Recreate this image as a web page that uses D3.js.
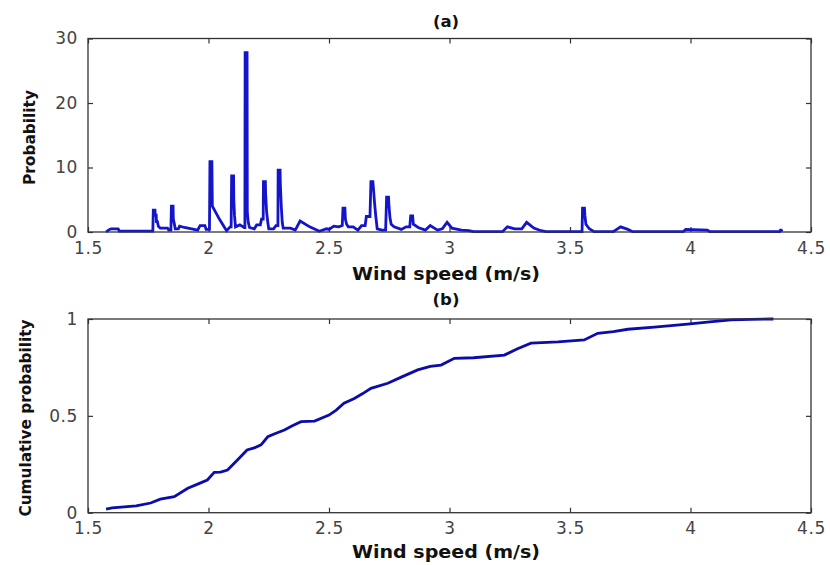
<!DOCTYPE html>
<html>
<head>
<meta charset="utf-8">
<script src="https://cdn.jsdelivr.net/npm/d3@7"></script>
<style>
  html,body{margin:0;padding:0;background:#fff;}
  svg{display:block;}
</style>
</head>
<body>
<svg id="chart" width="830" height="565"></svg>
<script>
/* ── data ── */
var xTicks=[1.5,2,2.5,3,3.5,4,4.5];
var xTickLabels=['1.5','2','2.5','3','3.5','4','4.5'];
var probTicks=[0,10,20,30];
var cdfTicks=[0,0.5,1];
var cdfTickLabels=['0','0.5','1'];

// (a) probability line, in drawing order
var probX=[1.575,1.585,1.595,1.625,1.63,1.769,1.771,1.778,1.779,1.783,1.784,1.788,1.792,1.80,1.83,1.835,1.844,
  1.846,1.853,1.854,1.858,1.862,1.875,1.88,1.90,1.93,1.955,1.965,1.985,1.99,2.004,
  2.006,2.014,2.016,2.045,2.075,2.09,2.094,2.096,2.104,2.105,2.108,2.112,2.13,2.148,2.151,
  2.152,2.160,2.161,2.165,2.17,2.19,2.20,2.215,2.22,2.227,2.228,2.236,2.237,2.241,2.246,2.25,2.27,2.28,2.288,
  2.289,2.297,2.298,2.302,2.306,2.31,2.34,2.36,2.38,2.42,2.46,2.49,2.50,2.52,2.54,2.555,
  2.558,2.566,2.568,2.573,2.58,2.60,2.62,2.635,2.65,2.655,2.67,2.674,2.682,2.685,2.689,2.694,2.70,2.72,2.735,
  2.739,2.747,2.749,2.753,2.758,2.77,2.80,2.82,2.835,2.839,2.847,2.85,2.87,2.90,2.92,2.95,2.97,2.99,3.01,3.05,3.08,3.10,
  3.22,3.24,3.27,3.30,3.32,3.35,3.38,3.40,3.55,3.552,3.560,3.562,3.566,3.58,3.60,3.68,3.71,3.74,3.76,
  3.97,3.98,4.07,4.08,4.37,4.375,4.38];
var probY=[0,0.3,0.5,0.5,0.15,0.15,3.4,3.4,2.6,2.6,1.6,1.6,0.9,0.6,0.6,0.3,0.3,
  4.0,4.0,2.0,1.3,0.5,0.5,0.9,0.7,0.5,0.3,1.0,1.0,0.4,0.4,
  10.9,10.9,4.0,2.0,0.2,0.8,0.8,8.7,8.7,5.0,2.5,0.8,1.1,0.7,0.7,
  27.8,27.8,3.0,1.5,0.7,0.5,1.1,1.1,2.0,2.0,7.8,7.8,6.0,3.2,1.5,0.5,0.5,1.0,1.0,
  9.6,9.6,7.5,4.0,1.5,0.6,0.6,0.3,1.7,0.8,0.1,0.5,0.4,0.9,0.8,1.0,
  3.7,3.7,2.0,1.2,0.8,0.8,0.3,1.0,1.0,2.4,2.4,7.8,7.8,6.5,4.5,2.5,0.5,0.3,0.3,
  5.4,5.4,4.0,2.2,1.2,0.8,0.4,0.8,0.8,2.5,2.5,1.2,0.7,0.3,1.0,0.3,0.5,1.5,0.6,0.3,0.2,0.05,
  0.05,0.8,0.5,0.5,1.5,0.6,0.2,0.05,0.05,3.7,3.7,2.5,1.2,0.5,0.05,0.05,0.8,0.4,0.05,
  0.05,0.4,0.3,0.05,0.05,0.4,0.05];

// (b) cumulative probability
var cdfX=[1.575,1.60,1.65,1.70,1.76,1.80,1.858,1.914,1.96,1.995,2.024,2.05,2.079,2.12,2.16,2.19,2.218,2.246,2.28,2.315,
  2.35,2.384,2.44,2.50,2.53,2.562,2.605,2.64,2.674,2.744,2.80,2.868,2.92,2.965,3.02,3.10,3.228,3.28,3.338,3.45,
  3.559,3.615,3.68,3.74,3.85,3.988,4.08,4.168,4.25,4.344];
var cdfY=[0.018,0.025,0.03,0.035,0.05,0.07,0.083,0.126,0.15,0.169,0.208,0.21,0.22,0.272,0.324,0.335,0.35,0.392,0.41,0.427,
  0.45,0.47,0.473,0.504,0.53,0.565,0.59,0.615,0.642,0.668,0.70,0.737,0.755,0.762,0.797,0.80,0.814,0.845,0.875,0.882,
  0.892,0.926,0.935,0.947,0.958,0.974,0.985,0.995,0.998,1.0];

/* ── drawing ── */
var svg=d3.select('#chart');
svg.append('rect').attr('width',830).attr('height',565).attr('fill','#fff');

var FONT='DejaVu Sans, Verdana, sans-serif';
var AX='#333';
var x=d3.scaleLinear().domain([1.5,4.5]).range([88,811]);

function panel(opt){
  var y=d3.scaleLinear().domain(opt.yDomain).range([opt.bottom,opt.top]);
  var g=svg.append('g');

  // mirrored ticks (top, right) without labels
  g.append('g').attr('transform','translate(0,'+opt.top+')')
    .call(d3.axisTop(x).tickValues(xTicks).tickSize(-5).tickFormat(''));
  g.append('g').attr('transform','translate(811,0)')
    .call(d3.axisRight(y).tickValues(opt.yTicks).tickSize(-5).tickFormat(''));

  g.append('g').attr('transform','translate(0,'+opt.bottom+')')
    .call(d3.axisBottom(x).tickValues(xTicks).tickSize(-5).tickPadding(9.5)
      .tickFormat(function(d,i){return xTickLabels[i];}));
  g.append('g').attr('transform','translate(88,0)')
    .call(d3.axisLeft(y).tickValues(opt.yTicks).tickSize(-5).tickPadding(10)
      .tickFormat(function(d,i){return opt.yLabels[i];}));

  g.selectAll('.domain').remove();
  g.selectAll('.tick line').attr('stroke',AX).attr('stroke-width',1.2);
  g.selectAll('.tick text').attr('fill','#444').attr('font-size',17)
    .attr('font-family',FONT).attr('letter-spacing','0.6px');

  var line=d3.line().x(function(d){return x(d[0]);}).y(function(d){return y(d[1]);});
  g.append('path').datum(d3.zip(opt.xs,opt.ys)).attr('d',line)
    .attr('fill','none').attr('stroke',opt.color).attr('stroke-width',2.8)
    .attr('stroke-linejoin','miter').attr('stroke-miterlimit',2);

  g.append('rect').attr('x',88).attr('y',opt.top).attr('width',811-88).attr('height',opt.bottom-opt.top)
    .attr('fill','none').attr('stroke',AX).attr('stroke-width',1.3);

  // title and labels
  g.append('text').attr('x',446).attr('y',opt.titleY).attr('text-anchor','middle')
    .attr('font-family',FONT).attr('font-weight','bold').attr('font-size',16.5).attr('fill','#111')
    .text(opt.title);
  g.append('text').attr('x',446).attr('y',opt.xlabY).attr('text-anchor','middle')
    .attr('font-family',FONT).attr('font-weight','bold').attr('font-size',17).attr('fill','#111')
    .attr('textLength',188).attr('lengthAdjust','spacingAndGlyphs')
    .text('Wind speed (m/s)');
  g.append('text').attr('transform','translate('+opt.ylabX+','+opt.ylabCY+') rotate(-90)')
    .attr('text-anchor','middle')
    .attr('font-family',FONT).attr('font-weight','bold').attr('font-size',16).attr('fill','#111')
    .attr('textLength',opt.ylabLen).attr('lengthAdjust','spacingAndGlyphs')
    .text(opt.ylab);
}

panel({top:38.5,bottom:232,yDomain:[0,30],yTicks:probTicks,
  yLabels:probTicks.map(String),xs:probX,ys:probY,color:'#1414c8',
  title:'(a)',titleY:27,xlabY:280,ylab:'Probability',ylabX:35,ylabCY:137.5,ylabLen:95});

panel({top:319,bottom:512.7,yDomain:[0,1],yTicks:cdfTicks,
  yLabels:cdfTickLabels,xs:cdfX,ys:cdfY,color:'#0c0caa',
  title:'(b)',titleY:305,xlabY:558,ylab:'Cumulative probability',ylabX:31,ylabCY:418,ylabLen:197});
</script>
</body>
</html>
